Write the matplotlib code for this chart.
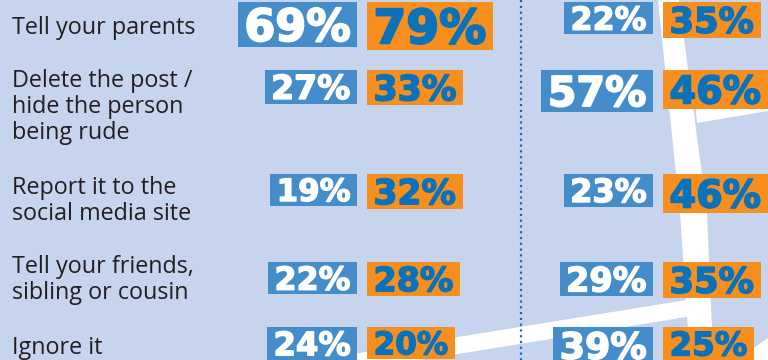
import numpy as np
import matplotlib
matplotlib.use("Agg")
import matplotlib.pyplot as plt
from matplotlib.patches import Rectangle, Polygon
import matplotlib.patheffects as pe

# ---- data -------------------------------------------------------------
labels = [
    "Tell your parents",
    "Delete the post /\nhide the person\nbeing rude",
    "Report it to the\nsocial media site",
    "Tell your friends,\nsibling or cousin",
    "Ignore it",
]
left_blue = [69, 27, 19, 22, 24]
left_orange = [79, 33, 32, 28, 20]
right_blue = [22, 57, 23, 29, 39]
right_orange = [35, 46, 46, 35, 25]

# ---- layout (pixel coordinates, origin top-left) ---------------------
W, H = 768, 360
row_top = [2, 70, 174, 262, 327]
label_baseline = [34, 87, 194, 273, 354]
line_step = 26
label_x = 12.5
col_split = [(357, 367), (653, 663)]   # blue right edge, orange left edge
divider_x = 520.5

BG = "#c6d4ed"
BLUE = "#448cca"
ORANGE = "#f78f1e"
BLUE_TEXT = "#0a72bb"
LABEL = "#231f20"

fig = plt.figure(figsize=(W / 100, H / 100), dpi=100)
fig.patch.set_facecolor(BG)
ax = fig.add_axes([0, 0, 1, 1])
ax.set_xlim(0, W)
ax.set_ylim(H, 0)
ax.set_facecolor(BG)
ax.axis("off")

# ---- background road shapes -----------------------------------------
road = dict(facecolor="white", edgecolor="none", zorder=0)
ax.add_patch(Polygon([(658, 0), (680, 213), (688, 330), (690, 360),
                      (714, 360), (712, 330), (707, 213), (679, 0)], **road))
ax.add_patch(Polygon([(695, 100), (768, 88), (768, 111), (697, 123)], **road))
xs = np.array([330, 700])
top = 337 - 0.162 * (xs - 458)
ax.add_patch(Polygon([(xs[0], top[0]), (xs[1], top[1]),
                      (xs[1], top[1] + 17), (xs[0], top[0] + 17)], **road))
ax.add_patch(Polygon([(736, 360), (768, 338), (768, 360)], **road))

# ---- dotted divider --------------------------------------------------
ax.plot([divider_x, divider_x], [0, H], color="#0f6fbd", lw=1.6,
        linestyle=(0, (1, 1.6)), zorder=1)

# ---- row labels -----------------------------------------------------
for lab, base in zip(labels, label_baseline):
    for i, line in enumerate(lab.split("\n")):
        ax.text(label_x, base + i * line_step, line, fontsize=16.8,
                family="Open Sans", color=LABEL, va="baseline", ha="left")

# ---- value boxes ------------------------------------------------------
fig.canvas.draw()
renderer = fig.canvas.get_renderer()
px_per_unit = fig.bbox.width / W


def box_height(v):
    return 26.3 + 0.276 * v


def value_box(v, top_y, anchor_x, side, fill, tcolor):
    h = box_height(v)
    em = 0.98 * h                # font em size in pixels
    digit_h = 0.729 * em
    pad = 6.5
    base = top_y + (h + digit_h) / 2
    t = ax.text(0, base, f"{v}%", fontsize=em * 72 / 100, family="DejaVu Sans",
                weight="bold", color=tcolor, va="baseline", ha="left", zorder=3)
    stroke = 0.045 * em * 72 / 100
    t.set_path_effects([pe.withStroke(linewidth=stroke, foreground=tcolor)])
    tw = t.get_window_extent(renderer).width / px_per_unit
    w = tw + 2 * pad
    x0 = anchor_x - w if side == "left" else anchor_x
    t.set_x(x0 + pad)
    ax.add_patch(Rectangle((x0, top_y), w, h, facecolor=fill,
                           edgecolor="none", zorder=2))


for (bx, ox), blues, oranges in zip(col_split, [left_blue, right_blue],
                                    [left_orange, right_orange]):
    for top_y, vb, vo in zip(row_top, blues, oranges):
        value_box(vb, top_y, bx, "left", BLUE, "white")
        value_box(vo, top_y, ox, "right", ORANGE, BLUE_TEXT)

fig.savefig("out.png", dpi=100, facecolor=BG)
